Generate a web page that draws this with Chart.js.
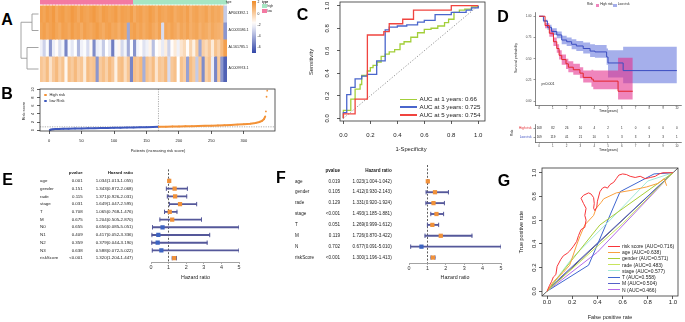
<!DOCTYPE html>
<html>
<head>
<meta charset="utf-8">
<title>risk model figure</title>
<script src="https://cdn.jsdelivr.net/npm/chart.js@4.4.1/dist/chart.umd.min.js"></script>
<style>
  html, body { margin: 0; padding: 0; background: #fff; }
  #fig { position: relative; width: 685px; height: 322px; overflow: hidden; background: #fff;
         font-family: "Liberation Sans", Arial, Helvetica, sans-serif; color: #222; }
  #fig canvas { position: absolute; }
  .t { position: absolute; white-space: nowrap; line-height: 1; }
  .sw { position: absolute; }
</style>
</head>
<body>
<div id="fig"></div>
<script>
// ================= data =================

// A - heatmap (patients sorted by risk, low on the left)
var geneNames = ['AP003392.1', 'AC005586.1', 'AL161785.1', 'AC009974.1'];
var sampleHigh = [0,0,0,0,0,0,0,0,0,0,0,0,0,0,0,0,0,0,0,0,0,0,0,0,0,0,0,0,0,0,
                  1,1,1,1,1,1,1,1,1,1,1,1,1,1,1,1,1,1,1,1,1,1,1,1,1,1,1,1,1,1];
var expAP003392 = [1.8,1.6,1.9,1.7,2.0,1.5,1.8,1.9,1.6,1.7,2.0,1.8,1.5,1.9,1.7,1.6,1.8,2.0,1.7,1.5,
                   1.9,1.8,1.6,1.7,1.9,1.5,1.8,1.7,1.6,1.9,1.4,1.7,1.8,1.5,1.6,1.9,1.7,1.4,1.8,1.6,
                   1.5,1.7,1.8,1.4,1.6,1.7,1.5,1.8,1.3,1.6,1.7,1.4,1.5,1.7,1.3,1.6,1.4,1.5,1.2,-3.0];
var expAC005586 = [1.6,1.8,1.5,1.7,1.9,1.6,1.4,1.8,1.7,1.5,1.9,1.6,1.7,1.4,1.8,1.6,1.5,1.7,1.9,1.6,
                   1.4,1.7,1.8,1.5,1.6,1.3,1.7,1.5,-4.0,1.6,1.8,1.5,1.7,1.4,1.6,1.8,1.5,1.3,1.7,-2.5,
                   1.6,1.4,1.7,1.5,1.2,1.6,1.4,1.7,1.3,1.5,1.6,1.2,1.5,1.4,1.1,1.5,1.3,1.2,1.0,-4.5];
var expAL161785 = [-1.9,-2.8,-1.6,-4.5,-2.0,-1.4,-2.4,-1.8,-5.0,-1.7,-2.2,-1.5,-3.6,-1.9,-1.6,-2.5,-1.3,-4.8,-2.0,-1.8,
                   -3.0,-1.5,-2.1,-5.2,-1.7,-1.2,-2.6,-1.8,-3.9,-1.6,-4.6,-1.8,-1.4,-2.3,-1.9,-1.1,-3.3,-1.5,-1.2,-2.1,
                   -0.9,-2.8,-1.4,-0.8,-1.9,-0.6,-0.2,-1.4,0.0,-1.0,0.3,-4.0,0.2,-0.2,0.4,-0.8,0.6,0.1,0.9,1.8];
var expAC009974 = [0.5,0.2,0.8,-0.5,0.4,0.9,0.1,0.6,-1.2,0.7,0.3,0.9,0.2,0.5,-0.8,0.8,0.4,0.6,-4.5,0.3,
                   0.7,0.1,0.9,0.4,-1.0,0.6,0.8,-0.3,0.5,-5.0,0.7,0.4,0.9,-3.8,0.6,0.2,0.8,-0.6,0.5,0.3,
                   0.9,-2.5,0.4,0.7,-1.5,0.6,0.2,-4.2,0.8,0.3,-3.0,0.5,-4.8,0.1,0.6,-2.0,-5.0,0.3,-4.5,-6.0];
var hmLegendTicks = [2, 0, -2, -4, -6];

// B - risk score distribution
var bLowIdx   = [1,3,6,10,15,22,30,40,50,60,70,80,90,100,110,120,130,140,150,160,168];
var bLowRisk  = [0.05,0.15,0.22,0.27,0.31,0.35,0.38,0.41,0.44,0.47,0.50,0.53,0.56,0.59,0.62,0.65,0.68,0.71,0.74,0.78,0.82];
var bHighIdx  = [169,180,190,200,210,220,230,240,250,260,270,280,290,300,310,318,324,328,331,333,334,335,336];
var bHighRisk = [0.84,0.87,0.90,0.93,0.96,0.99,1.03,1.07,1.11,1.16,1.22,1.29,1.37,1.47,1.60,1.78,2.00,2.30,2.70,3.40,4.60,8.20,9.70];
var bXTicks = [0, 50, 100, 150, 200, 250, 300];
var bYTicks = [0, 2, 4, 6, 8, 10];

// C - time dependent ROC
var cYears = [1, 3, 5];
var cAUC = [0.66, 0.725, 0.754];
var cFpr1 = [0,0,0.055,0.087,0.124,0.136,0.178,0.20,0.22,0.25,0.28,0.31,0.34,0.38,0.42,0.45,0.50,0.55,0.60,0.65,0.70,0.75,0.78,0.82,0.86,0.90,0.95,1.0];
var cTpr1 = [0,0.07,0.17,0.26,0.30,0.38,0.42,0.45,0.47,0.50,0.55,0.57,0.59,0.61,0.66,0.68,0.72,0.76,0.79,0.80,0.82,0.85,0.88,0.94,0.96,0.97,0.99,1.0];
var cFpr3 = [0,0,0.025,0.055,0.087,0.136,0.178,0.247,0.31,0.34,0.40,0.47,0.55,0.60,0.68,0.80,0.91,0.95,1.0];
var cTpr3 = [0,0.05,0.21,0.275,0.35,0.375,0.39,0.51,0.785,0.81,0.82,0.83,0.855,0.87,0.92,0.94,0.96,0.98,1.0];
var cFpr5 = [0,0,0.087,0.178,0.30,0.34,0.44,0.52,0.80,1.0];
var cTpr5 = [0,0.04,0.17,0.74,0.77,0.84,0.88,0.96,1.0,1.0];
var cTicks = [0, 0.2, 0.4, 0.6, 0.8, 1.0];

// D - Kaplan-Meier
var kmHighT  = [0,0.43,0.74,1.04,1.28,1.45,1.64,1.95,2.12,2.48,2.96,3.2,3.8,3.93,5.73,6.8];
var kmHighS  = [1,0.89,0.80,0.70,0.62,0.54,0.49,0.44,0.40,0.37,0.33,0.28,0.26,0.236,0.117,0.117];
var kmHighUp = [1,0.92,0.84,0.75,0.67,0.60,0.55,0.50,0.47,0.44,0.40,0.36,0.37,0.36,0.51,0.51];
var kmHighLo = [1,0.86,0.76,0.65,0.57,0.49,0.43,0.38,0.34,0.31,0.27,0.22,0.17,0.14,0.02,0.02];
var kmLowT   = [0,0.31,0.6,0.9,1.28,1.64,2.0,2.36,2.7,3.2,3.7,4.05,4.9,5.0,6.1,10];
var kmLowS   = [1,0.945,0.87,0.82,0.78,0.72,0.70,0.67,0.65,0.62,0.59,0.58,0.52,0.45,0.36,0.36];
var kmLowUp  = [1,0.96,0.90,0.86,0.82,0.77,0.75,0.73,0.71,0.69,0.67,0.66,0.62,0.60,0.64,0.64];
var kmLowLo  = [1,0.93,0.84,0.78,0.74,0.67,0.65,0.61,0.59,0.56,0.52,0.51,0.43,0.28,0.21,0.21];
var kmYTicks = [0, 0.25, 0.5, 0.75, 1];
var kmTimes = [0,1,2,3,4,5,6,7,8,9,10];
var riskGroups = ['High risk', 'Low risk'];
var atRiskHigh = [168,82,26,10,4,2,1,0,0,0,0];
var atRiskLow  = [169,119,41,21,10,5,3,3,3,3,1];

// E - univariate Cox
var eVars = ['age','gender','rade','stage','T','M','N0','N1','N2','N3','riskScore'];
var ePval = ['0.001','0.151','0.115','0.031','0.708','0.675','0.655','0.409','0.359','0.638','<0.001'];
var eHR   = [1.034,1.343,1.371,1.649,1.065,1.204,0.656,0.417,0.379,0.588,1.320];
var eLow  = [1.013,0.872,0.926,1.047,0.768,0.505,0.085,0.052,0.044,0.072,1.204];
var eHigh = [1.055,2.068,2.031,2.595,1.476,2.870,5.051,3.336,3.190,5.022,1.447];

// F - multivariate Cox
var fVars = ['age','gender','rade','stage','T','M','N','riskScore'];
var fPval = ['0.019','0.105','0.129','<0.001','0.051','0.119','0.702','<0.001'];
var fHR   = [1.023,1.412,1.331,1.493,1.269,1.726,0.677,1.300];
var fLow  = [1.004,0.930,0.920,1.185,0.999,0.870,0.091,1.196];
var fHigh = [1.042,2.143,1.924,1.881,1.612,3.422,5.010,1.413];
var hrTicks = [0, 1, 2, 3, 4, 5];

// G - ROC of clinical features
var gNames = ['risk score','age','gender','rade','stage','T','M','N'];
var gAUC   = [0.716,0.638,0.571,0.483,0.577,0.558,0.504,0.466];
var gFprRisk = [0,0.02,0.035,0.05,0.07,0.08,0.11,0.13,0.16,0.18,0.21,0.235,0.25,0.27,0.30,0.31,0.30,0.31,0.29,0.27,
                0.29,0.33,0.35,0.37,0.375,0.37,0.38,0.395,0.40,0.42,0.44,0.46,0.48,0.50,0.53,0.55,0.57,0.60,0.63,0.66,
                0.70,0.74,0.78,0.82,0.86,0.89,0.92,0.96,1.0];
var gTprRisk = [0,0.05,0.08,0.12,0.14,0.21,0.27,0.30,0.32,0.34,0.38,0.42,0.47,0.52,0.54,0.60,0.64,0.70,0.74,0.785,
                0.81,0.83,0.82,0.79,0.74,0.70,0.68,0.71,0.76,0.84,0.87,0.88,0.87,0.90,0.92,0.95,0.98,0.99,0.985,0.97,
                0.96,0.97,0.95,0.96,0.97,0.99,1.0,1.0,1.0];
var gFprAge = [0,0.05,0.13,0.18,0.235,0.26,0.30,0.37,0.39,0.43,0.45,0.55,0.66,0.79,0.88,0.93,0.95];
var gTprAge = [0,0.08,0.16,0.22,0.39,0.46,0.56,0.64,0.70,0.75,0.78,0.83,0.85,0.88,0.91,0.95,0.89];
var gFprGender = [0,0.42,1], gTprGender = [0,0.56,1];
var gFprRade   = [0,0.60,1], gTprRade   = [0,0.57,1];
var gFprStage  = [0,0.20,0.50,0.80,1], gTprStage = [0,0.28,0.60,0.93,1];
var gFprT      = [0,0.33,0.58,0.85,1], gTprT     = [0,0.22,0.84,0.99,1];
var gFprM      = [0,0.08,1], gTprM = [0,0.09,1];
var gFprN      = [0,0.40,1], gTprN = [0,0.33,1];
var gTicks = [0, 0.2, 0.4, 0.6, 0.8, 1.0];

// ================= helpers =================
var fig = document.getElementById('fig');
var FONT = '"Liberation Sans", Arial, Helvetica, sans-serif';
Chart.defaults.font.family = FONT;
Chart.defaults.color = '#222';
Chart.defaults.animation = false;
Chart.defaults.plugins.legend.display = false;
Chart.defaults.plugins.tooltip.enabled = false;

function mkCanvas(b) {
  var c = document.createElement('canvas');
  c.width = b[2]; c.height = b[3];
  c.style.left = b[0] + 'px'; c.style.top = b[1] + 'px';
  c.style.width = b[2] + 'px'; c.style.height = b[3] + 'px';
  fig.appendChild(c);
  return c;
}
function txt(s, x, y, size, o) {
  o = o || {};
  var d = document.createElement('div');
  d.className = 't';
  d.textContent = s;
  d.style.left = x + 'px'; d.style.top = y + 'px';
  d.style.fontSize = size + 'px';
  if (o.bold) d.style.fontWeight = 'bold';
  if (o.color) d.style.color = o.color;
  var ax = o.align === 'l' ? '0' : (o.align === 'r' ? '-100%' : '-50%');
  d.style.transform = 'translate(' + ax + ',-50%)' + (o.rot ? ' rotate(-90deg)' : '');
  fig.appendChild(d);
}
function swatch(x, y, w, h, bg, round) {
  var d = document.createElement('div');
  d.className = 'sw';
  d.style.left = x + 'px'; d.style.top = y + 'px';
  d.style.width = w + 'px'; d.style.height = h + 'px';
  d.style.background = bg;
  if (round) d.style.borderRadius = '50%';
  fig.appendChild(d);
}
// box = [left, top, width, height]; area = [left, top, right, bottom]
function pad(b, a, yW, xH) {
  return { left: a[0] - b[0] - yW, top: a[1] - b[1], right: b[0] + b[2] - a[2], bottom: b[1] + b[3] - a[3] - xH };
}
function fitX(h) { return function (s) { s.height = h; s.paddingLeft = 0; s.paddingRight = 0; }; }
function fitY(w) { return function (s) { s.width = w; s.paddingTop = 0; s.paddingBottom = 0; }; }
function setTicks(vals) { return function (s) { s.ticks = vals.map(function (v) { return { value: v }; }); }; }
function xy(xs, ys) { return xs.map(function (x, i) { return { x: x, y: ys[i] }; }); }
function fixed(n) { return function (v) { return Number(v).toFixed(n); }; }

// base R style axis (outward ticks, no grid)
function rScale(min, max, ticks, fit, tickOpts, gridOpts, borderOpts) {
  return {
    type: 'linear', bounds: 'data', min: min, max: max,
    afterBuildTicks: setTicks(ticks),
    afterFit: fit,
    grid: Object.assign({ drawOnChartArea: false, drawTicks: true, tickLength: 3, color: '#333', tickColor: '#333', lineWidth: 0.8 }, gridOpts || {}),
    border: Object.assign({ display: false }, borderOpts || {}),
    ticks: Object.assign({ color: '#222', autoSkip: false, maxRotation: 0 }, tickOpts || {})
  };
}
function rotY(size, padding, cb) {
  return { font: { size: size }, padding: padding, minRotation: 90, maxRotation: 90, crossAlign: 'center', callback: cb };
}

var frame = {
  id: 'frame',
  afterDatasetsDraw: function (chart) {
    var a = chart.chartArea, ctx = chart.ctx;
    ctx.save();
    ctx.strokeStyle = '#333'; ctx.lineWidth = 0.8;
    ctx.strokeRect(a.left, a.top, a.right - a.left, a.bottom - a.top);
    ctx.restore();
  }
};

// ================= A: heatmap =================
var hmTypeSpan = [0, 4];
var hmRowSpans = [[6, 22], [22, 39], [39, 56], [56, 82]];
var hmMin = -6.8, hmMax = 2.5, hmMid = -1.5;
var hmHot = [240, 140, 40], hmCold = [50, 70, 168];
var typeColors = { low: '#F37AA2', high: '#A6E6C3' };
function colorFor(v) {
  var c, f;
  if (v >= hmMid) { c = hmHot; f = Math.min(1, (v - hmMid) / (hmMax - hmMid)); }
  else { c = hmCold; f = Math.min(1, (hmMid - v) / (hmMid - hmMin)); }
  var m = function (i) { return Math.round(255 + (c[i] - 255) * f); };
  return 'rgb(' + m(0) + ',' + m(1) + ',' + m(2) + ')';
}
var hmRows = [expAP003392, expAC005586, expAL161785, expAC009974];
var hmLabels = sampleHigh.map(function (h, i) { return String(i + 1); });
var hmDatasets = [{
  data: sampleHigh.map(function () { return hmTypeSpan; }),
  backgroundColor: sampleHigh.map(function (h) { return h ? typeColors.high : typeColors.low; })
}].concat(hmRows.map(function (vals, k) {
  return { data: vals.map(function () { return hmRowSpans[k]; }), backgroundColor: vals.map(colorFor) };
}));

var dendro = {
  id: 'dendro',
  afterDraw: function (chart) {
    var ctx = chart.ctx, ys = chart.scales.y, L = chart.chartArea.left - 1.5;
    var c = hmRowSpans.map(function (s) { return ys.getPixelForValue((s[0] + s[1]) / 2); });
    var m12 = (c[0] + c[1]) / 2, m34 = (c[2] + c[3]) / 2;
    var x12 = L - 6.5, x34 = L - 11.5, xr = L - 17.5;
    ctx.save();
    ctx.strokeStyle = '#9a9a9a'; ctx.lineWidth = 0.9;
    ctx.beginPath();
    ctx.moveTo(L, c[0]); ctx.lineTo(x12, c[0]); ctx.lineTo(x12, c[1]); ctx.lineTo(L, c[1]);
    ctx.moveTo(L, c[2]); ctx.lineTo(x34, c[2]); ctx.lineTo(x34, c[3]); ctx.lineTo(L, c[3]);
    ctx.moveTo(x12, m12); ctx.lineTo(xr, m12); ctx.lineTo(xr, m34); ctx.lineTo(x34, m34);
    ctx.stroke();
    ctx.restore();
  }
};

var hmBox = [18, 0, 210, 84], hmArea = [40, 0, 227, 82];
new Chart(mkCanvas(hmBox), {
  type: 'bar',
  data: { labels: hmLabels, datasets: hmDatasets },
  options: {
    responsive: false,
    layout: { padding: pad(hmBox, hmArea, 0, 0) },
    datasets: { bar: { barPercentage: 1, categoryPercentage: 1, grouped: false, borderWidth: 0, inflateAmount: 0.5 } },
    scales: {
      x: { display: false, afterFit: fitX(0) },
      y: { type: 'linear', display: false, min: 0, max: 82, reverse: true, afterFit: fitY(0) }
    }
  },
  plugins: [dendro]
});

txt('type', 228.5, 2.3, 3);
geneNames.forEach(function (g, k) {
  txt(g, 228.5, (hmRowSpans[k][0] + hmRowSpans[k][1]) / 2, 3.6, { align: 'l' });
});
// legends of heatmap
txt('type', 262, 1.6, 3, { align: 'l', bold: true });
swatch(262, 3.8, 4.5, 4.5, typeColors.high);
swatch(262, 8.8, 4.5, 4.5, typeColors.low);
txt('high', 267.5, 6.1, 3, { align: 'l' });
txt('low', 267.5, 11.1, 3, { align: 'l' });
(function () {
  var stops = [];
  for (var i = 0; i <= 12; i++) {
    var v = hmMax - (hmMax - hmMin) * i / 12;
    stops.push(colorFor(v) + ' ' + (i / 12 * 100).toFixed(1) + '%');
  }
  swatch(252, 0.5, 3.5, 52.5, 'linear-gradient(to bottom,' + stops.join(',') + ')');
  var pxPer = 52.5 / (hmMax - hmMin);
  hmLegendTicks.forEach(function (v) {
    txt(String(v), 257.5, 0.5 + (hmMax - v) * pxPer, 3.4, { align: 'l' });
  });
})();

// ================= B: risk score =================
var cOrange = '#F39237', cBlue = '#3E58BE';
var cutLines = {
  id: 'cutLines',
  beforeDatasetsDraw: function (chart) {
    var ctx = chart.ctx, a = chart.chartArea, xs = chart.scales.x, ys = chart.scales.y;
    var xc = xs.getPixelForValue(bLowIdx[bLowIdx.length - 1] + 0.5);
    var yc = ys.getPixelForValue(bLowRisk[bLowRisk.length - 1]);
    ctx.save();
    ctx.strokeStyle = '#9a9a9a'; ctx.lineWidth = 0.8; ctx.setLineDash([1.2, 1.2]);
    ctx.beginPath();
    ctx.moveTo(xc, a.top); ctx.lineTo(xc, a.bottom);
    ctx.moveTo(a.left, yc); ctx.lineTo(a.right, yc);
    ctx.stroke();
    ctx.restore();
  }
};
function riskSet(xs, ys, col) {
  return {
    data: xy(xs, ys), showLine: true, borderColor: col, backgroundColor: col,
    borderWidth: 2, pointRadius: 0.9, pointBorderWidth: 0,
    segment: { borderColor: function (ctx) { return (ctx.p1.parsed.y - ctx.p0.parsed.y) > 0.8 ? 'rgba(0,0,0,0)' : undefined; } }
  };
}
var bBox = [18, 84, 262, 62], bArea = [40, 89, 275, 131];
new Chart(mkCanvas(bBox), {
  type: 'scatter',
  data: { datasets: [riskSet(bHighIdx, bHighRisk, cOrange), riskSet(bLowIdx, bLowRisk, cBlue)] },
  options: {
    responsive: false,
    layout: { padding: pad(bBox, bArea, 12, 12) },
    scales: {
      x: rScale(-14, 348, bXTicks, fitX(12), { font: { size: 4 }, padding: 4 }),
      y: rScale(-0.2, 10.1, bYTicks, fitY(12), rotY(4, 1.8))
    }
  },
  plugins: [cutLines, frame]
});
swatch(44.3, 93.6, 2.8, 2.8, cOrange, true);
swatch(44.3, 99.6, 2.8, 2.8, cBlue, true);
txt('High risk', 49.5, 95, 4, { align: 'l' });
txt('low Risk', 49.5, 101, 4, { align: 'l' });
txt('Risk score', 23.5, 111, 4, { rot: true });
txt('Patients (increasing risk score)', 158, 151, 4);

// ================= C: time ROC =================
var cCols = ['#A3CF3A', '#4A66CC', '#F0443F'];
function stepSet(xs, ys, col) {
  return { data: xy(xs, ys), showLine: true, stepped: true, borderColor: col, borderWidth: 1.3, pointRadius: 0 };
}
var cBox = [318, 0, 172, 160], cArea = [340, 2, 485, 121];
new Chart(mkCanvas(cBox), {
  type: 'scatter',
  data: { datasets: [
    stepSet(cFpr5, cTpr5, cCols[2]),
    stepSet(cFpr3, cTpr3, cCols[1]),
    stepSet(cFpr1, cTpr1, cCols[0]),
    { data: xy([0, 1], [0, 1]), showLine: true, borderColor: '#777', borderWidth: 0.8, borderDash: [1.2, 1.8], pointRadius: 0 }
  ] },
  options: {
    responsive: false,
    layout: { padding: pad(cBox, cArea, 20, 18) },
    scales: {
      x: rScale(-0.025, 1.05, cTicks, fitX(18), { font: { size: 6 }, padding: 8, callback: fixed(1) }),
      y: rScale(-0.024, 1.033, cTicks, fitY(20), rotY(6, 5.8, fixed(1)))
    }
  },
  plugins: [frame]
});
txt('Sensitivity', 312, 62, 5.8, { rot: true });
txt('1-Specificity', 411, 150, 5.8);
[99.3, 107, 115].forEach(function (y, i) {
  swatch(400, y - 0.6, 17, 1.3, cCols[i]);
  txt('AUC at ' + cYears[i] + ' years: ' + String(cAUC[i]), 419.5, y, 6.2, { align: 'l' });
});

// ================= D: Kaplan-Meier =================
var kmRed = '#E3242B', kmBlueLine = '#3B4DC0';
var kmPink = 'rgba(228,45,140,0.58)', kmBlueBand = 'rgba(75,95,215,0.5)';
function kmLine(t, s, col) {
  return { data: xy(t, s), showLine: true, stepped: true, borderColor: col, borderWidth: 1, pointRadius: 0 };
}
function kmBand(t, s, col, fill) {
  return { data: xy(t, s), showLine: true, stepped: true, borderWidth: 0, borderColor: 'rgba(0,0,0,0)', backgroundColor: col, fill: fill, pointRadius: 0 };
}
function ggScale(min, max, ticks, fit, tickOpts) {
  return rScale(min, max, ticks, fit, Object.assign({ font: { size: 3 }, color: '#444' }, tickOpts),
    { tickLength: 1.5, lineWidth: 0.5, tickColor: '#333' }, { display: true, color: '#333', width: 0.6 });
}
var dBox = [505, 0, 180, 118], dArea = [535, 12, 681, 105];
new Chart(mkCanvas(dBox), {
  type: 'scatter',
  data: { datasets: [
    kmLine(kmHighT, kmHighS, kmRed),
    kmLine(kmLowT, kmLowS, kmBlueLine),
    kmBand(kmHighT, kmHighUp, kmPink, '+1'),
    kmBand(kmHighT, kmHighLo, kmPink, false),
    kmBand(kmLowT, kmLowUp, kmBlueBand, '+1'),
    kmBand(kmLowT, kmLowLo, kmBlueBand, false)
  ] },
  options: {
    responsive: false,
    layout: { padding: pad(dBox, dArea, 20, 6) },
    scales: {
      x: ggScale(-0.3, 10.3, kmTimes, fitX(6), { padding: 0 }),
      y: ggScale(-0.045, 1.05, kmYTicks, fitY(20), { padding: 2, callback: fixed(2) })
    }
  }
});
txt('Risk', 587, 5.3, 3.2, { align: 'l' });
swatch(595.5, 3.6, 3.6, 3.6, kmPink);
txt('High risk', 600.3, 5.3, 3.2, { align: 'l' });
swatch(613, 3.6, 3.6, 3.6, kmBlueBand);
txt('Low risk', 617.8, 5.3, 3.2, { align: 'l' });
txt('Survival probability', 517, 58, 3.6, { rot: true });
txt('Time(years)', 608.5, 112, 3.6);
txt('p<0.001', 541.5, 85, 3.6, { align: 'l' });

// number at risk table
var atRisk = [atRiskHigh, atRiskLow];
var riskCols = [kmRed, kmBlueLine];
var riskTable = {
  id: 'riskTable',
  afterDraw: function (chart) {
    var ctx = chart.ctx, xs = chart.scales.x, ys = chart.scales.y;
    ctx.save();
    ctx.fillStyle = '#222'; ctx.textAlign = 'center'; ctx.textBaseline = 'middle';
    ctx.font = '3px ' + FONT;
    atRisk.forEach(function (row, g) {
      row.forEach(function (n, i) {
        ctx.fillText(String(n), xs.getPixelForValue(kmTimes[i]), ys.getPixelForValue(g));
      });
    });
    ctx.restore();
  }
};
var rtBox = [505, 118, 180, 42], rtArea = [535, 124, 681, 142];
new Chart(mkCanvas(rtBox), {
  type: 'scatter',
  data: { datasets: [{ data: [] }] },
  options: {
    responsive: false,
    layout: { padding: pad(rtBox, rtArea, 30, 7) },
    scales: {
      x: ggScale(-0.3, 10.3, kmTimes, fitX(7), { padding: 1.2 }),
      y: {
        type: 'category', labels: riskGroups, offset: true, afterFit: fitY(30),
        grid: { drawOnChartArea: false, drawTicks: true, tickLength: 1.5, tickColor: '#333', lineWidth: 0.5 },
        border: { display: true, color: '#333', width: 0.6 },
        ticks: { font: { size: 3.2 }, padding: 2, color: function (c) { return riskCols[c.index]; } }
      }
    }
  },
  plugins: [riskTable]
});
txt('Risk', 513, 133, 3.4, { rot: true });
txt('Time(years)', 608.5, 150.7, 3.6);

// ================= E / F: forest plots =================
var hrUp = '#F0913A', hrDown = '#3D64C2', ciCol = '#55589A';
function hrText(h, l, u) { return h.toFixed(3) + '(' + l.toFixed(3) + '-' + u.toFixed(3) + ')'; }
function forest(box, area, vars, pv, hr, lo, hi, cols, fs) {
  var hrMax = hrTicks[hrTicks.length - 1];
  var capHi = hi.map(function (v) { return Math.min(v, hrMax); });
  var withHead = function (arr) { return [null].concat(arr); };
  var rows = [['', 'pvalue', 'Hazard ratio']].concat(vars.map(function (v, i) {
    return [v, pv[i], hrText(hr[i], lo[i], hi[i])];
  }));
  var table = {
    id: 'forestTable',
    afterDraw: function (chart) {
      var ctx = chart.ctx, ys = chart.scales.y;
      ctx.save();
      ctx.fillStyle = '#222'; ctx.textBaseline = 'middle';
      rows.forEach(function (r, i) {
        var y = ys.getPixelForValue(i);
        ctx.font = (i === 0 ? 'bold ' : '') + fs + 'px ' + FONT;
        ctx.textAlign = 'left'; ctx.fillText(r[0], cols[0], y);
        ctx.textAlign = 'right'; ctx.fillText(r[1], cols[1], y); ctx.fillText(r[2], cols[2], y);
      });
      ctx.restore();
    }
  };
  var capSet = function (vals) {
    return { type: 'line', indexAxis: 'y', data: withHead(vals), showLine: false, pointStyle: 'line', rotation: 90,
             pointRadius: 2.2, pointBorderColor: ciCol, pointBorderWidth: 1 };
  };
  new Chart(mkCanvas(box), {
    type: 'bar',
    data: {
      labels: [''].concat(vars),
      datasets: [
        { type: 'line', indexAxis: 'y', data: withHead(hr), showLine: false, pointStyle: 'rect', pointRadius: 3,
          pointBorderWidth: 0, pointBackgroundColor: withHead(hr).map(function (v) { return v > 1 ? hrUp : hrDown; }) },
        capSet(lo),
        capSet(capHi),
        { data: withHead(lo.map(function (v, i) { return [v, capHi[i]]; })), backgroundColor: ciCol, barThickness: 1.2, grouped: false }
      ]
    },
    options: {
      indexAxis: 'y',
      responsive: false,
      layout: { padding: pad(box, area, 0, 10) },
      scales: {
        x: rScale(0, hrMax, hrTicks, fitX(10), { font: { size: 5.4 }, padding: 0.5, color: '#333' },
          { drawOnChartArea: true, tickLength: 2, tickColor: '#999', lineWidth: 0.8,
            color: function (c) { return c.tick && c.tick.value === 1 ? '#333' : 'rgba(0,0,0,0)'; } },
          { display: true, color: '#999', width: 0.9, dash: [2, 1.6] }),
        y: { type: 'category', display: false, afterFit: fitY(0) }
      }
    },
    plugins: [table]
  });
}
forest([30, 160, 215, 130], [151, 169.4, 239, 262], eVars, ePval, eHR, eLow, eHigh, [10, 52.7, 103], 4.4);
forest([285, 160, 225, 130], [409, 165, 501, 263], fVars, fPval, fHR, fLow, fHigh, [10, 55, 106.7], 4.6);
txt('Hazard ratio', 195.5, 278, 5.3);
txt('Hazard ratio', 455, 278, 5.3);

// ================= G: ROC of clinical features =================
var gCols = ['#F8353A', '#F9A03F', '#A8CE38', '#C8E45C', '#A2EAD8', '#3F66D0', '#5561C8', '#B56BEA'];
var gFpr = [gFprRisk, gFprAge, gFprGender, gFprRade, gFprStage, gFprT, gFprM, gFprN];
var gTpr = [gTprRisk, gTprAge, gTprGender, gTprRade, gTprStage, gTprT, gTprM, gTprN];
var gSets = gFpr.map(function (f, i) {
  return { data: xy(f, gTpr[i]), showLine: true, borderColor: gCols[i], borderWidth: 1, pointRadius: 0 };
});
gSets.push({ data: xy([-0.04, 1.04], [-0.04, 1.04]), showLine: true, borderColor: '#333', borderWidth: 0.8, pointRadius: 0 });
var gBox = [515, 160, 170, 162], gArea = [542, 168, 678, 296];
new Chart(mkCanvas(gBox), {
  type: 'scatter',
  data: { datasets: gSets },
  options: {
    responsive: false,
    layout: { padding: pad(gBox, gArea, 16, 10) },
    scales: {
      x: rScale(-0.04, 1.04, gTicks, fitX(10), { font: { size: 6 }, padding: 0, callback: fixed(1) }),
      y: rScale(-0.04, 1.04, gTicks, fitY(16), rotY(6, 0, fixed(1)))
    }
  },
  plugins: [frame]
});
txt('True positive rate', 522, 232, 5.5, { rot: true });
txt('False positive rate', 610, 318, 5.5);
gNames.forEach(function (n, i) {
  var y = 246 + i * 6.23;
  swatch(608, y - 0.5, 12, 1, gCols[i]);
  txt(n + ' (AUC=' + gAUC[i].toFixed(3) + ')', 622, y, 5, { align: 'l' });
});

// ================= panel letters =================
[['A', 7, 20], ['B', 7, 94], ['C', 302.5, 14.5], ['D', 503, 16.5], ['E', 7.5, 180], ['F', 281, 178], ['G', 504, 181]]
  .forEach(function (p) { txt(p[0], p[1], p[2], 16, { bold: true, color: '#000' }); });
</script>
</body>
</html>
